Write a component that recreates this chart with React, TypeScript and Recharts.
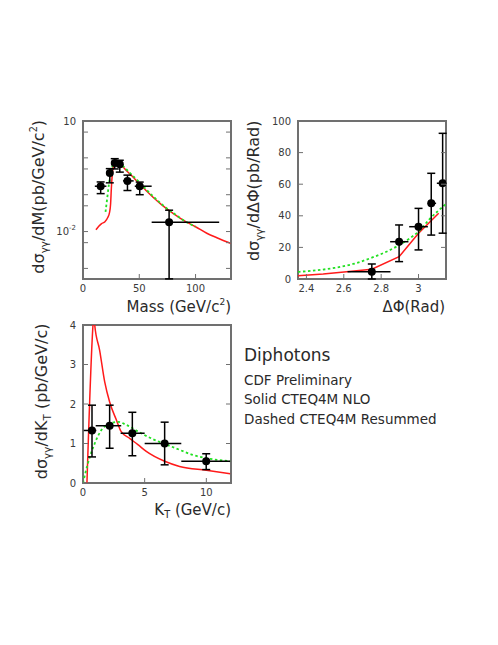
import React from "react";
import {
  ComposedChart,
  Line,
  Scatter,
  XAxis,
  YAxis,
  ErrorBar,
  ReferenceArea,
} from "recharts";

// ---- Mass panel (log y)
const massX = [15.7, 23.8, 28.2, 32.7, 39.5, 50.4, 76.5];
const massY = [0.17, 0.39, 0.73, 0.67, 0.237, 0.17, 0.018];
const massYLo = [0.107, 0.21, 0.5, 0.41, 0.13, 0.1, 0.00052];
const massYHi = [0.222, 0.51, 0.95, 0.86, 0.34, 0.22, 0.038];
const massXLo = [10.5, 22.2, 26.6, 30.5, 35.5, 46, 61];
const massXHi = [20.8, 25.4, 29.8, 34.9, 45, 61, 121];
const massNloX = [11.5, 14, 16.5, 19.5, 22, 23.5, 24.5, 25.2, 26, 27.3, 29.5, 32.5, 38, 44, 50, 56, 62, 70, 80, 92, 100, 110, 120, 131];
const massNloY = [0.0112, 0.014, 0.0165, 0.0185, 0.024, 0.032, 0.055, 0.15, 0.35, 0.62, 0.73, 0.68, 0.47, 0.31, 0.2, 0.13, 0.087, 0.053, 0.031, 0.018, 0.0135, 0.009, 0.0066, 0.0048];
const massResX = [20, 21.5, 23, 25, 27, 29, 31, 35, 40, 45, 50, 56, 62, 70, 80, 92, 100];
const massResY = [0.034, 0.08, 0.19, 0.45, 0.68, 0.78, 0.76, 0.62, 0.44, 0.31, 0.22, 0.14, 0.092, 0.055, 0.032, 0.018, 0.0135];
const massXTicks = [0, 50, 100];
const massYTicks = [0.001, 0.005, 0.01, 0.05, 0.1, 0.5, 1, 5, 10];

// ---- Delta phi panel
const dphiX = [2.75, 2.896, 3.0, 3.068, 3.129];
const dphiY = [4.6, 23.6, 33.1, 47.9, 60.6];
const dphiYLo = [0, 11, 18.4, 27.8, 29];
const dphiYHi = [9.5, 34.2, 44.7, 66.9, 92.2];
const dphiXLo = [2.62, 2.848, 2.95, 3.05, 3.098];
const dphiXHi = [2.85, 2.946, 3.05, 3.094, 3.15];
const dphiNloX = [2.355, 2.49, 2.615, 2.75, 2.896, 3.0, 3.108];
const dphiNloY = [2.1, 3.2, 4.6, 6.2, 14.1, 28.9, 41.6];
const dphiResX = [2.355, 2.45, 2.55, 2.65, 2.75, 2.85, 2.95, 3.0, 3.06, 3.147];
const dphiResY = [4.5, 5.5, 7.0, 9.5, 13.5, 18.5, 25.5, 30, 38, 47.5];
const dphiXTicks = [2.4, 2.6, 2.8, 3.0];
const dphiYTicks = [0, 20, 40, 60, 80, 100];

// ---- KT panel
const ktX = [0.73, 2.16, 4.0, 6.62, 9.99];
const ktY = [1.33, 1.45, 1.26, 1.0, 0.55];
const ktYLo = [0.66, 0.88, 0.69, 0.46, 0.34];
const ktYHi = [1.97, 1.97, 1.79, 1.54, 0.74];
const ktXLo = [0.06, 1.03, 3.05, 5.0, 7.97];
const ktXHi = [1.08, 3.1, 5.0, 7.97, 11.93];
const ktNloX = [0.32, 0.81, 0.88, 0.95, 1.35, 1.76, 2.16, 2.7, 3.1, 3.78, 4.45, 5.13, 6.62, 7.83, 10, 11.93];
const ktNloY = [0, 4.0, 4.3, 4.0, 3.36, 2.56, 2.05, 1.6, 1.3, 1.13, 0.97, 0.8, 0.55, 0.42, 0.32, 0.235];
const ktResX = [0, 0.06, 0.4, 0.95, 1.49, 2.16, 2.84, 3.51, 4.59, 5.67, 6.62, 7.83, 8.9, 10, 11.93];
const ktResY = [0, 0.08, 0.5, 1.0, 1.34, 1.5, 1.55, 1.47, 1.28, 1.11, 0.99, 0.84, 0.71, 0.63, 0.55];
const ktXTicks = [0, 5, 10];
const ktYTicks = [0, 1, 2, 3, 4];

const AXIS = "#707070";
const TXT = "#3a3a3a";
const TITLE = "#2a2a2a";
const FONT = "'DejaVu Sans', sans-serif";
const RED = "#ff1a1a";
const GREEN = "#22e022";

const PAD_L = 40;
const PAD_T = 10;
const PAD_R = 10;
const PAD_B = 30;

const points = (xs: number[], ys: number[], xl: number[], xh: number[], yl: number[], yh: number[]) =>
  xs.map((x, i) => ({
    x,
    y: ys[i],
    ex: [x - xl[i], xh[i] - x],
    ey: [ys[i] - yl[i], yh[i] - ys[i]],
  }));
const curve = (xs: number[], ys: number[]) => xs.map((x, i) => ({ x, y: ys[i] }));

const yTick = (pw: number, label: (v: number) => React.ReactNode, dx = 7) => (p: any) => {
  const { x, y, payload } = p;
  const t = label(payload.value);
  return (
    <g>
      <line x1={x} x2={x + 5} y1={y} y2={y} stroke={AXIS} />
      <line x1={x + pw} x2={x + pw - 5} y1={y} y2={y} stroke={AXIS} />
      {t != null && (
        <text x={x - dx} y={y} dy="0.35em" textAnchor="end" fontSize={10} fill={TXT} fontFamily={FONT}>
          {t}
        </text>
      )}
    </g>
  );
};

const xTick = (label: (v: number) => string) => (p: any) => {
  const { x, y, payload } = p;
  return (
    <g>
      <line x1={x} x2={x} y1={y} y2={y - 5} stroke={AXIS} />
      <text x={x} y={y + 13} textAnchor="middle" fontSize={10} fill={TXT} fontFamily={FONT}>
        {label(payload.value)}
      </text>
    </g>
  );
};

const dot = (p: any) => <circle cx={p.cx} cy={p.cy} r={4} fill="#000" />;

type Box = { left: number; top: number; w: number; h: number };

function Panel({
  box,
  xDomain,
  yDomain,
  xTicks,
  yTicks,
  xFmt,
  yFmt,
  log,
  pts,
  nlo,
  res,
  nloType,
}: {
  box: Box;
  xDomain: [number, number];
  yDomain: [number, number];
  xTicks: number[];
  yTicks: number[];
  xFmt: (v: number) => string;
  yFmt: (v: number) => React.ReactNode;
  log?: boolean;
  pts: any[];
  nlo: any[];
  res: any[];
  nloType: "linear" | "monotone";
}) {
  return (
    <div style={{ position: "absolute", left: box.left - PAD_L, top: box.top - PAD_T }}>
      <ComposedChart
        width={box.w + PAD_L + PAD_R}
        height={box.h + PAD_T + PAD_B}
        margin={{ top: PAD_T, right: PAD_R, bottom: 0, left: 0 }}
      >
        <XAxis
          type="number"
          dataKey="x"
          domain={xDomain}
          ticks={xTicks}
          interval={0}
          allowDataOverflow
          height={PAD_B}
          tickSize={0}
          tickMargin={0}
          axisLine={false}
          tickLine={false}
          tick={xTick(xFmt)}
        />
        <YAxis
          type="number"
          dataKey="y"
          scale={log ? "log" : "linear"}
          domain={yDomain}
          ticks={yTicks}
          interval={0}
          allowDataOverflow
          width={PAD_L}
          tickSize={0}
          tickMargin={0}
          axisLine={false}
          tickLine={false}
          tick={yTick(box.w, yFmt)}
        />
        <ReferenceArea
          x1={xDomain[0]}
          x2={xDomain[1]}
          y1={yDomain[0]}
          y2={yDomain[1]}
          fill="none"
          stroke={AXIS}
          strokeWidth={2}
          ifOverflow="visible"
        />
        <Line
          data={nlo}
          dataKey="y"
          type={nloType}
          stroke={RED}
          strokeWidth={1.5}
          dot={false}
          isAnimationActive={false}
        />
        <Line
          data={res}
          dataKey="y"
          type="monotone"
          stroke={GREEN}
          strokeWidth={1.8}
          strokeDasharray="2.5 2.5"
          dot={false}
          isAnimationActive={false}
        />
        <Scatter data={pts} dataKey="y" shape={dot} isAnimationActive={false}>
          <ErrorBar dataKey="ey" direction="y" width={4} stroke="#000" strokeWidth={1.5} />
          <ErrorBar dataKey="ex" direction="x" width={0} stroke="#000" strokeWidth={1.5} />
        </Scatter>
      </ComposedChart>
    </div>
  );
}

const sup = (s: string) => (
  <span style={{ fontSize: "0.6em", position: "relative", top: "-0.75em" }}>{s}</span>
);
const sub = (s: string) => (
  <span style={{ fontSize: "0.65em", position: "relative", top: "0.35em" }}>{s}</span>
);

function HTitle({ right, cy, children }: { right: number; cy: number; children: React.ReactNode }) {
  return (
    <div
      style={{
        position: "absolute",
        left: 0,
        width: right,
        top: cy - 9,
        lineHeight: "18px",
        fontSize: 15,
        textAlign: "right",
        whiteSpace: "nowrap",
        color: TITLE,
      }}
    >
      {children}
    </div>
  );
}

function VTitle({ cx, top, children }: { cx: number; top: number; children: React.ReactNode }) {
  return (
    <div style={{ position: "absolute", left: cx, top, width: 0, height: 0 }}>
      <div
        style={{
          position: "absolute",
          right: 0,
          top: -9,
          lineHeight: "18px",
          fontSize: 16,
          whiteSpace: "nowrap",
          color: TITLE,
          transformOrigin: "right center",
          transform: "rotate(-90deg)",
        }}
      >
        {children}
      </div>
    </div>
  );
}

const massBox: Box = { left: 83, top: 121, w: 148, h: 158 };
const dphiBox: Box = { left: 298, top: 121, w: 148, h: 158 };
const ktBox: Box = { left: 83, top: 325, w: 148, h: 158 };

export default function App() {
  const massFmt = (v: number) =>
    v === 10 ? "10" : v === 0.01 ? (
      <>
        10<tspan dy={-5} fontSize={7}>-2</tspan>
      </>
    ) : null;

  return (
    <div
      style={{
        position: "absolute",
        left: 0,
        top: 0,
        width: 498,
        height: 645,
        background: "#fff",
        fontFamily: FONT,
        overflow: "hidden",
      }}
    >
      <Panel
        box={massBox}
        xDomain={[0, 131.5]}
        yDomain={[0.000516, 10]}
        xTicks={massXTicks}
        yTicks={massYTicks}
        xFmt={(v) => String(v)}
        yFmt={massFmt}
        log
        pts={points(massX, massY, massXLo, massXHi, massYLo, massYHi)}
        nlo={curve(massNloX, massNloY)}
        res={curve(massResX, massResY)}
        nloType="monotone"
      />
      <Panel
        box={dphiBox}
        xDomain={[2.355, 3.147]}
        yDomain={[0, 100]}
        xTicks={dphiXTicks}
        yTicks={dphiYTicks}
        xFmt={(v) => (v === 3 ? "3" : v.toFixed(1))}
        yFmt={(v) => String(v)}
        pts={points(dphiX, dphiY, dphiXLo, dphiXHi, dphiYLo, dphiYHi)}
        nlo={curve(dphiNloX, dphiNloY)}
        res={curve(dphiResX, dphiResY)}
        nloType="linear"
      />
      <Panel
        box={ktBox}
        xDomain={[0, 12]}
        yDomain={[0, 4]}
        xTicks={ktXTicks}
        yTicks={ktYTicks}
        xFmt={(v) => String(v)}
        yFmt={(v) => String(v)}
        pts={points(ktX, ktY, ktXLo, ktXHi, ktYLo, ktYHi)}
        nlo={curve(ktNloX, ktNloY)}
        res={curve(ktResX, ktResY)}
        nloType="monotone"
      />

      <VTitle cx={40} top={119}>
        dσ{sub("γγ")}/dM(pb/GeV/c{sup("2")})
      </VTitle>
      <HTitle right={231} cy={307}>
        Mass (GeV/c{sup("2")})
      </HTitle>

      <VTitle cx={255} top={120}>
        dσ{sub("γγ")}/dΔΦ(pb/Rad)
      </VTitle>
      <HTitle right={445} cy={307}>
        ΔΦ(Rad)
      </HTitle>

      <VTitle cx={43} top={323}>
        dσ{sub("γγ")}/dK{sub("T")} (pb/GeV/c)
      </VTitle>
      <HTitle right={231} cy={510}>
        K{sub("T")} (GeV/c)
      </HTitle>

      <div style={{ position: "absolute", left: 244, top: 345, fontSize: 17, lineHeight: "20px", color: TITLE }}>
        Diphotons
      </div>
      <div style={{ position: "absolute", left: 244, top: 372, fontSize: 13.5, lineHeight: "17px", color: TITLE }}>
        CDF Preliminary
      </div>
      <div style={{ position: "absolute", left: 244, top: 391, fontSize: 13.5, lineHeight: "17px", color: TITLE }}>
        Solid CTEQ4M NLO
      </div>
      <div style={{ position: "absolute", left: 244, top: 411, fontSize: 13.5, lineHeight: "17px", color: TITLE }}>
        Dashed CTEQ4M Resummed
      </div>
    </div>
  );
}
